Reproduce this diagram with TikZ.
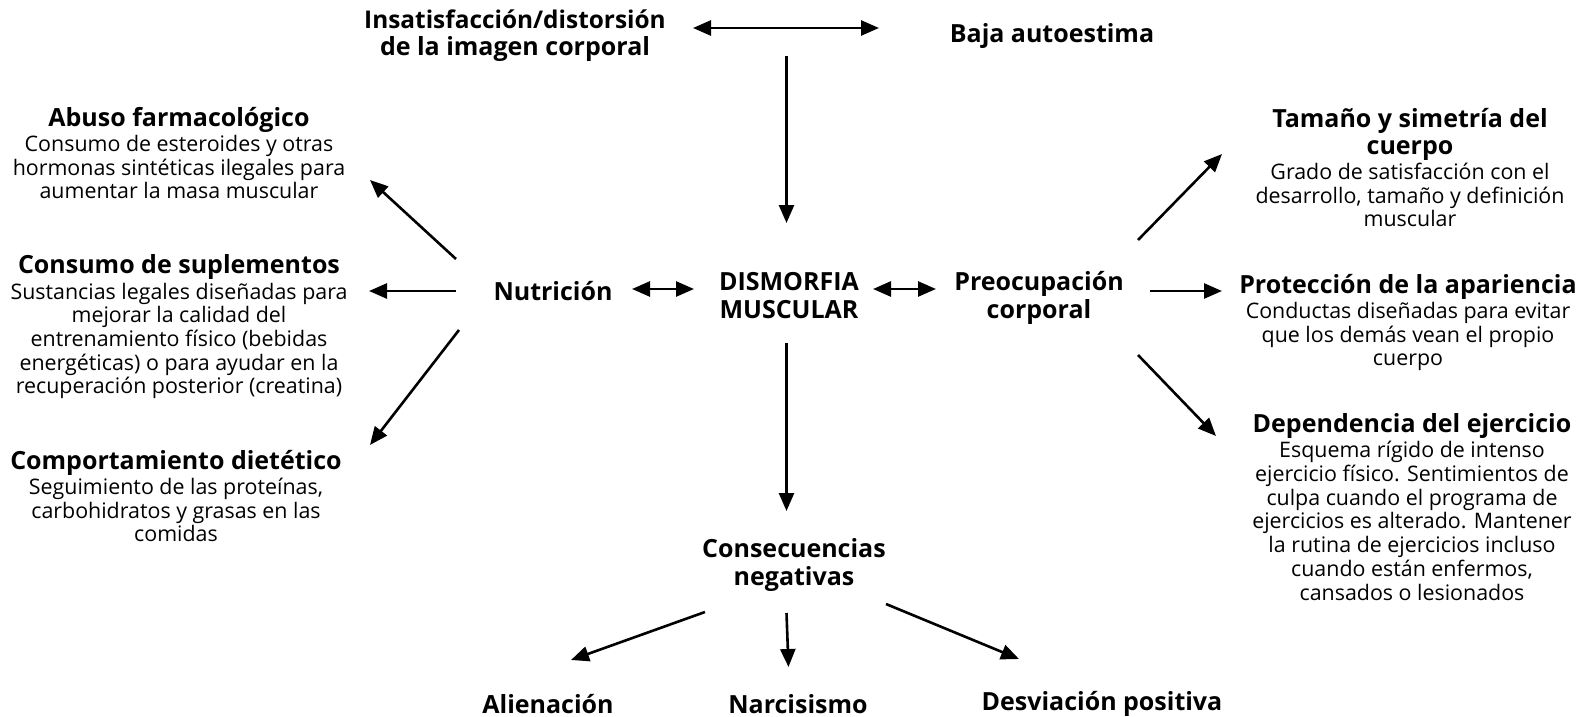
\documentclass[tikz,border=0pt]{standalone}
\usepackage{fontspec}
\setmainfont{Open Sans}
\usetikzlibrary{arrows.meta}
\newcommand\hd[1]{{\bfseries\fontsize{25}{27.5}\selectfont #1}}
\newcommand\tightlines{\lineskiplimit=-50pt\relax}
\begin{document}
\begin{tikzpicture}[x=1pt,y=-1pt,
  tip/.tip={Triangle[length=18pt,width=15pt]},
  arr/.style={line width=2.6pt,-tip},
  darr/.style={line width=2.6pt,tip-tip},
  lab/.style={font=\bfseries\fontsize{25}{27.5}\selectfont\tightlines, align=center, inner sep=0pt},
  blk/.style={font=\fontsize{21.4}{23.7}\selectfont\tightlines, align=center, inner sep=0pt},
]
\useasboundingbox (0,0) rectangle (1583,717);

% central labels
\node[lab] (insat) at (515,35.5) {\fontsize{24.4}{27}\selectfont Insatisfacción/distorsión\\de la imagen corporal};
\node[lab] (baja) at (1052,36) {Baja autoestima};
\node[lab] (nut) at (553,291) {Nutrición};
\node[lab] (dism) at (789,295.5) {DISMORFIA\\MUSCULAR};
\node[lab] (preoc) at (1039,298) {Preocupación\\corporal};
\node[lab] (cons) at (794,565) {Consecuencias\\negativas};
\node[lab] (alien) at (548,704) {Alienación};
\node[lab] (narc) at (798,704) {Narcisismo};
\node[lab] (desv) at (1102,704) {Desviación positiva};

% left blocks
\node[blk] (abuso) at (179,153) {\hd{Abuso farmacológico}\\[1.5pt]Consumo de esteroides y otras\\hormonas sintéticas ilegales para\\aumentar la masa muscular};
\node[blk] (supl) at (179,327) {\hd{Consumo de suplementos}\\[1.5pt]Sustancias legales diseñadas para\\mejorar la calidad del\\entrenamiento físico (bebidas\\energéticas) o para ayudar en la\\recuperación posterior (creatina)};
\node[blk] (diet) at (176,496) {\hd{Comportamiento dietético}\\[1.5pt]Seguimiento de las proteínas,\\carbohidratos y grasas en las\\comidas};

% right blocks
\node[blk] (tam) at (1410,167.5) {\hd{Tamaño y simetría del}\\[3.5pt]\hd{cuerpo}\\[1.5pt]Grado de satisfacción con el\\desarrollo, tamaño y definición\\muscular};
\node[blk] (prot) at (1408,322.5) {\hd{Protección de la apariencia}\\[1.5pt]Conductas diseñadas para evitar\\que los demás vean el propio\\cuerpo};
\node[blk] (dep) at (1412,507) {\hd{Dependencia del ejercicio}\\[1.5pt]Esquema rígido de intenso\\ejercicio físico. Sentimientos de\\culpa cuando el programa de\\ejercicios es alterado. Mantener\\la rutina de ejercicios incluso\\cuando están enfermos,\\cansados o lesionados};

% arrow end points
\coordinate (t1a) at (693,28); \coordinate (t1b) at (879,28);
\coordinate (v1a) at (786.5,56); \coordinate (v1b) at (786.5,223);
\coordinate (l1a) at (456,259); \coordinate (l1b) at (370,180);
\coordinate (l2a) at (456,291); \coordinate (l2b) at (369,291);
\coordinate (l3a) at (459,330); \coordinate (l3b) at (370,445);
\coordinate (m1a) at (632,289); \coordinate (m1b) at (694,289);
\coordinate (m2a) at (873,289); \coordinate (m2b) at (936,289);
\coordinate (r1a) at (1138,240); \coordinate (r1b) at (1222,154);
\coordinate (r2a) at (1150,291); \coordinate (r2b) at (1222,291);
\coordinate (r3a) at (1138,355); \coordinate (r3b) at (1216,436);
\coordinate (v2a) at (786.5,343); \coordinate (v2b) at (786.5,511);
\coordinate (b1a) at (705,612); \coordinate (b1b) at (571,660);
\coordinate (b2a) at (786.5,613); \coordinate (b2b) at (788.5,667);
\coordinate (b3a) at (886,604); \coordinate (b3b) at (1019,659);

\draw[darr] (t1a) -- (t1b);
\draw[arr] (v1a) -- (v1b);
\draw[arr] (l1a) -- (l1b);
\draw[arr] (l2a) -- (l2b);
\draw[arr] (l3a) -- (l3b);
\draw[darr] (m1a) -- (m1b);
\draw[darr] (m2a) -- (m2b);
\draw[arr] (r1a) -- (r1b);
\draw[arr] (r2a) -- (r2b);
\draw[arr] (r3a) -- (r3b);
\draw[arr] (v2a) -- (v2b);
\draw[arr] (b1a) -- (b1b);
\draw[arr] (b2a) -- (b2b);
\draw[arr] (b3a) -- (b3b);
\end{tikzpicture}
\end{document}
